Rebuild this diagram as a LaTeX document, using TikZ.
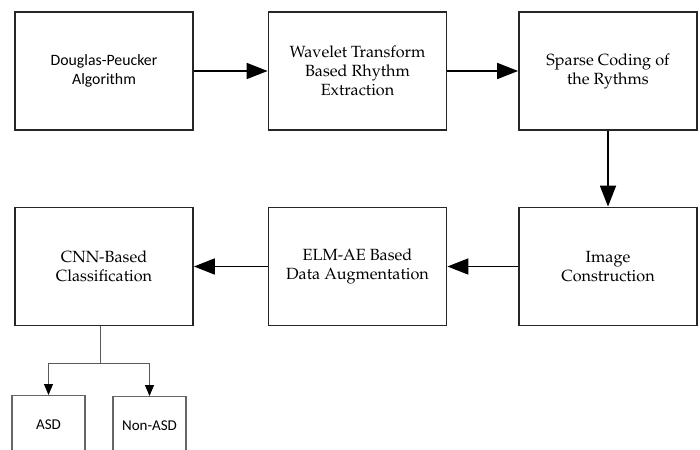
\documentclass[tikz,border=0pt]{standalone}
\usepackage[T1]{fontenc}
\usepackage{fontspec}
\newfontfamily\calib{Carlito}
\newcommand\palfont{\fontencoding{T1}\fontfamily{ppl}\selectfont}
\usetikzlibrary{arrows.meta}
\begin{document}
\begin{tikzpicture}[x=1pt,y=-1pt,
  mainbox/.style={draw=black!85,line width=1.8pt,minimum width=178pt,minimum height=118pt,inner sep=0pt,align=center,font=\palfont\fontsize{16.2}{19}\selectfont},
  calbox/.style={mainbox,font=\calib\fontsize{15.8}{19}\selectfont},
  leafbox/.style={draw=black!60,line width=1.2pt,minimum width=73pt,minimum height=58pt,inner sep=0pt,align=center,font=\calib\fontsize{15}{16}\selectfont},
  bigarrow/.style={draw=black,line width=1.8pt,-{Triangle[length=21pt,width=16pt]}},
  smallarrow/.style={draw=black!65,line width=1pt,-{Triangle[length=11pt,width=9pt,fill=black,color=black]}}]
\clip (0,0) rectangle (700,449);
\fill[white] (0,0) rectangle (700,449);
\node[calbox] (dp) at (104,71) {Douglas-Peucker\\Algorithm};
\node[mainbox] (wt) at (357.5,71) {Wavelet Transform\\Based Rhythm\\Extraction};
\node[mainbox] (sc) at (608,71) {Sparse Coding of\\the Rythms};
\node[mainbox] (ic) at (608,266.5) {Image\\Construction};
\node[mainbox] (elm) at (357.5,266.5) {ELM-AE Based\\Data Augmentation};
\node[mainbox] (cnn) at (104,266.5) {CNN-Based\\Classification};
\node[leafbox,anchor=north] (asd) at (48.5,395) {ASD};
\node[leafbox,anchor=north] (nasd) at (149.5,396) {Non-ASD};
\coordinate (split) at (100,363);
\draw[bigarrow] (dp) -- (wt);
\draw[bigarrow] (wt) -- (sc);
\draw[bigarrow] (sc) -- (ic);
\draw[bigarrow] (ic) -- (elm);
\draw[bigarrow] (elm) -- (cnn);
\draw[draw=black!65,line width=1pt] (cnn.south -| split) -- (split);
\draw[smallarrow] (split) -| (asd.north);
\draw[smallarrow] (split) -| (nasd.north);
\end{tikzpicture}
\end{document}
